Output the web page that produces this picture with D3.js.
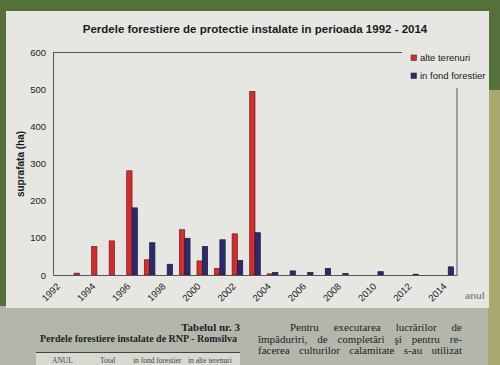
<!DOCTYPE html>
<html><head><meta charset="utf-8">
<script src="https://cdn.jsdelivr.net/npm/d3@7/dist/d3.min.js"></script>
<style>body{margin:0;background:#fff}svg{display:block}</style>
</head><body>
<svg id="c" width="500" height="365"></svg>
<script>
const years = ["1992","1993","1994","1995","1996","1997","1998","1999","2000","2001","2002","2003","2004","2005","2006","2007","2008","2009","2010","2011","2012","2013","2014"];
const alteTerenuri = [0,5,77,92,281,41,0,122,38,18,111,495,3,0,0,0,0,0,0,0,0,0,0];
const fondForestier = [0,0,0,0,181,87,29,99,77,95,39,114,7,11,7,18,4,0,9,0,2,0,22];
const seriesNames = ["alte terenuri","in fond forestier"];
const yTicks = [0,100,200,300,400,500,600];
const xLabels = years.filter((d,i)=>i%2===0);

const svg = d3.select("#c");
const W=500,H=365;
// photo background
svg.append("rect").attr("width",W).attr("height",H).attr("fill","#55703a");
svg.append("rect").attr("x",0).attr("y",306).attr("width",W).attr("height",H-306).attr("fill","#b3b7ab");
svg.append("rect").attr("x",488).attr("y",90).attr("width",12).attr("height",275).attr("fill","#a9a86e");
svg.append("rect").attr("x",6).attr("y",11).attr("width",483).attr("height",297).attr("fill","#e6e6e3");

const m={l:53,r:457,t:52.5,b:275};
const x=d3.scaleBand().domain(years).range([m.l,m.r]);
const x1=d3.scaleBand().domain(seriesNames).range([0,x.bandwidth()]).paddingOuter(0.65).paddingInner(0);
const y=d3.scaleLinear().domain([0,600]).range([m.b,m.t]);
const colors={"alte terenuri":"#d42b2b","in fond forestier":"#2c2a6e"};

// frame
const fr=svg.append("g").attr("stroke","#555").attr("stroke-width",1).attr("fill","none");
fr.append("line").attr("x1",m.l).attr("x2",402).attr("y1",m.t).attr("y2",m.t);
fr.append("line").attr("x1",m.r).attr("x2",m.r).attr("y1",88).attr("y2",m.b);

// bars
const data=[];
years.forEach((yr,i)=>{
  data.push({yr,s:seriesNames[0],v:alteTerenuri[i]});
  data.push({yr,s:seriesNames[1],v:fondForestier[i]});
});
svg.append("g").selectAll("rect").data(data.filter(d=>d.v>0)).join("rect")
  .attr("x",d=>x(d.yr)+x1(d.s))
  .attr("width",x1.bandwidth())
  .attr("y",d=>y(d.v))
  .attr("height",d=>y(0)-y(d.v))
  .attr("fill",d=>colors[d.s])
  .attr("stroke",d=>d.s===seriesNames[0]?"#6a1f1f":"#1a1a3a")
  .attr("stroke-width",0.7);

// y axis
const ya=svg.append("g").attr("transform",`translate(${m.l},0)`)
  .call(d3.axisLeft(y).tickValues(yTicks).tickSize(0).tickPadding(7));
ya.select(".domain").attr("stroke","#555");
ya.selectAll("text").attr("font-family","Liberation Sans, Arial, sans-serif").attr("font-size",9.5).attr("fill","#222");

// x axis
const xa=svg.append("g").attr("transform",`translate(0,${m.b})`)
  .call(d3.axisBottom(x).tickValues(xLabels).tickSize(0).tickPadding(0));
xa.select(".domain").attr("stroke","#555");
xa.selectAll("text").attr("font-family","Liberation Sans, Arial, sans-serif").attr("font-size",9.5).attr("fill","#222")
  .attr("text-anchor","end").attr("dy",0)
  .attr("transform","translate(-1,12) rotate(-45)");

svg.append("text").attr("x",465).attr("y",299).attr("font-family","Liberation Sans, Arial, sans-serif")
  .attr("font-size",9.5).attr("font-weight","bold").attr("fill","#8a8a84").text("anul");

// title
svg.append("text").attr("x",255).attr("y",33).attr("text-anchor","middle")
  .attr("font-family","Liberation Sans, Arial, sans-serif").attr("font-weight","bold").attr("font-size",11.5)
  .attr("fill","#1a1a1a").text("Perdele forestiere de protectie instalate in perioada 1992 - 2014");

// y title
svg.append("text").attr("transform","translate(24,164) rotate(-90)").attr("text-anchor","middle")
  .attr("font-family","Liberation Sans, Arial, sans-serif").attr("font-weight","bold").attr("font-size",10)
  .attr("fill","#1a1a1a").text("suprafata (ha)");

// legend
const lg=svg.append("g");
seriesNames.forEach((s,i)=>{
  const g=lg.append("g").attr("transform",`translate(411,${55+i*18})`);
  g.append("rect").attr("width",5.5).attr("height",5.5).attr("fill",colors[s]).attr("stroke","#333").attr("stroke-width",0.6);
  g.append("text").attr("x",9).attr("y",6).attr("font-family","Liberation Sans, Arial, sans-serif")
    .attr("font-size",9.5).attr("fill","#1a1a1a").text(s);
});

// page text below
const serif="Liberation Serif, DejaVu Serif, serif";
svg.append("text").attr("x",240).attr("y",331).attr("text-anchor","end").attr("font-family",serif)
  .attr("font-weight","bold").attr("font-size",11).attr("fill","#222").text("Tabelul nr. 3");
svg.append("text").attr("x",40).attr("y",342).attr("font-family",serif)
  .attr("font-weight","bold").attr("font-size",10.5).attr("textLength",197).attr("lengthAdjust","spacingAndGlyphs")
  .attr("fill","#222").text("Perdele forestiere instalate de RNP - Romsilva");
svg.append("line").attr("x1",36).attr("x2",240).attr("y1",352.5).attr("y2",352.5).attr("stroke","#444").attr("stroke-width",1);
svg.append("rect").attr("x",36).attr("y",353).attr("width",204).attr("height",12).attr("fill","#d8dad2");
const headCols=[["ANUL",52],["Total",100],["in fond forestier",133],["in alte terenuri",188]];
headCols.forEach(([t,xx])=>{
  svg.append("text").attr("x",xx).attr("y",363).attr("font-family",serif).attr("font-size",7.5).attr("fill","#444").text(t);
});
const para=["Pentru executarea lucrărilor de","împăduriri, de completări şi pentru re-","facerea culturilor calamitate s-au utilizat"];
para.forEach((t,i)=>{
  const x0=i===0?290:258, x1e=462;
  const tx=svg.append("text").attr("x",x0).attr("y",331+i*11.5).attr("font-family",serif)
    .attr("font-size",11).attr("fill","#222").text(t);
  const w=tx.node().getComputedTextLength();
  const gaps=(t.match(/ /g)||[]).length;
  if(gaps>0) tx.attr("word-spacing",Math.max(0,(x1e-x0-w)/gaps));
});
</script>
</body></html>
